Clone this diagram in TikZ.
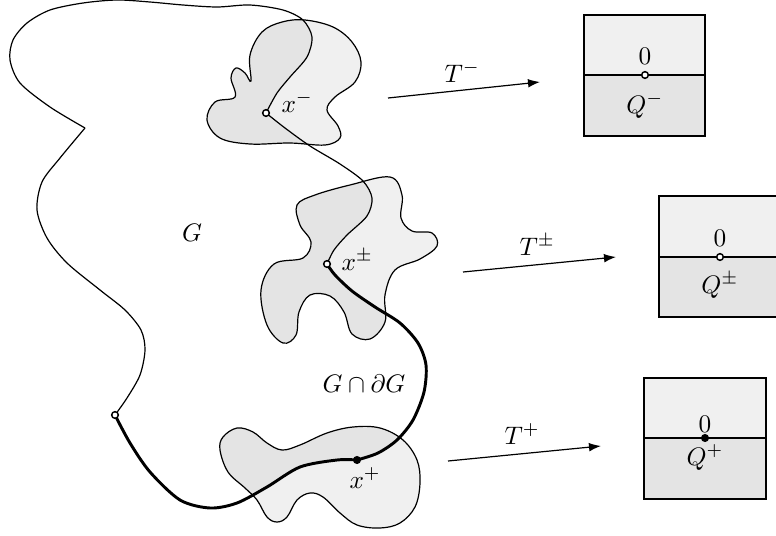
\documentclass[tikz,border=0pt]{standalone}
\usetikzlibrary{arrows.meta}
\definecolor{lightg}{RGB}{240,240,240}
\definecolor{darkg}{RGB}{228,228,228}
\begin{document}
\begin{tikzpicture}[x=0.75pt,y=-0.75pt,
  thinline/.style={line width=0.9pt},
  thickline/.style={line width=2.2pt,line cap=round},
  opendot/.style={circle,draw,fill=white,inner sep=0pt,minimum size=5pt,line width=1.1pt},
  fulldot/.style={circle,draw,fill=black,inner sep=0pt,minimum size=5pt,line width=1pt},
  lbl/.style={scale=1.9,inner sep=0pt},
  maparrow/.style={line width=0.9pt,-{Latex[length=9pt,width=6.5pt]}},
  boxline/.style={line width=1pt}]
\useasboundingbox (0,0) rectangle (776,536);
\clip (0,0) rectangle (776,536);

% blobs, light fill
\fill[lightg] plot[smooth cycle,tension=0.6] coordinates {(305,20) (333,27) (352,42) (361,62) (355,82) (335,97) (327,110) (338,126) (340,138) (325,145) (290,143) (250,144) (220,138) (207,120) (215,102) (235,97) (231,78) (236,68) (245,73) (251,81) (250,55) (262,32) (282,22)};
\fill[lightg] plot[smooth cycle,tension=0.6] coordinates {(390,177) (402,195) (401,218) (412,231) (432,233) (437,246) (420,259) (395,270) (385,295) (385,322) (370,339) (352,334) (344,312) (330,296) (310,295) (299,312) (296,335) (283,343) (267,325) (261,290) (274,264) (303,258) (311,242) (300,225) (297,205) (315,195) (350,185)};
\fill[lightg] plot[smooth cycle,tension=0.6] coordinates {(220,450) (223,437) (237,428) (253,432) (267,443) (282,450) (300,445) (327,433) (353,427) (380,428) (403,440) (417,460) (420,483) (415,507) (400,523) (380,528) (357,525) (340,513) (323,497) (310,493) (297,500) (287,517) (277,522) (267,517) (257,500) (245,488) (228,472)};

% darker part inside G
\begin{scope}
\clip plot[smooth] coordinates {(115,415) (127,398) (140,375) (145,350) (141,330) (125,310) (100,290) (67,263) (47,238) (37,210) (42,182) (60,158) (85,128)}
  -- plot[smooth] coordinates {(85,128) (50,107) (20,83) (10,60) (13,40) (27,23) (50,10) (83,3) (117,0) (150,2) (183,5) (217,7) (250,5) (283,10) (303,20) (312,37) (307,57) (290,77) (277,93) (266,113)}
  -- plot[smooth] coordinates {(266,113) (285,128) (310,146) (340,164) (363,181) (372,198) (367,216) (347,235) (334,250) (327,264)}
  -- plot[smooth] coordinates {(327,264) (335,275) (352,291) (375,307) (400,323) (418,343) (426,365) (424,392) (413,420) (397,440) (378,453) (357,460)}
  -- plot[smooth] coordinates {(357,460) (337,460) (300,467) (267,487) (237,503) (210,508) (180,500) (150,472) (130,443) (115,415)}
  -- cycle;
\fill[darkg] plot[smooth cycle,tension=0.6] coordinates {(305,20) (333,27) (352,42) (361,62) (355,82) (335,97) (327,110) (338,126) (340,138) (325,145) (290,143) (250,144) (220,138) (207,120) (215,102) (235,97) (231,78) (236,68) (245,73) (251,81) (250,55) (262,32) (282,22)};
\fill[darkg] plot[smooth cycle,tension=0.6] coordinates {(390,177) (402,195) (401,218) (412,231) (432,233) (437,246) (420,259) (395,270) (385,295) (385,322) (370,339) (352,334) (344,312) (330,296) (310,295) (299,312) (296,335) (283,343) (267,325) (261,290) (274,264) (303,258) (311,242) (300,225) (297,205) (315,195) (350,185)};
\fill[darkg] plot[smooth cycle,tension=0.6] coordinates {(220,450) (223,437) (237,428) (253,432) (267,443) (282,450) (300,445) (327,433) (353,427) (380,428) (403,440) (417,460) (420,483) (415,507) (400,523) (380,528) (357,525) (340,513) (323,497) (310,493) (297,500) (287,517) (277,522) (267,517) (257,500) (245,488) (228,472)};
\end{scope}

% blob outlines
\draw[thinline] plot[smooth cycle,tension=0.6] coordinates {(305,20) (333,27) (352,42) (361,62) (355,82) (335,97) (327,110) (338,126) (340,138) (325,145) (290,143) (250,144) (220,138) (207,120) (215,102) (235,97) (231,78) (236,68) (245,73) (251,81) (250,55) (262,32) (282,22)};
\draw[thinline] plot[smooth cycle,tension=0.6] coordinates {(390,177) (402,195) (401,218) (412,231) (432,233) (437,246) (420,259) (395,270) (385,295) (385,322) (370,339) (352,334) (344,312) (330,296) (310,295) (299,312) (296,335) (283,343) (267,325) (261,290) (274,264) (303,258) (311,242) (300,225) (297,205) (315,195) (350,185)};
\draw[thinline] plot[smooth cycle,tension=0.6] coordinates {(220,450) (223,437) (237,428) (253,432) (267,443) (282,450) (300,445) (327,433) (353,427) (380,428) (403,440) (417,460) (420,483) (415,507) (400,523) (380,528) (357,525) (340,513) (323,497) (310,493) (297,500) (287,517) (277,522) (267,517) (257,500) (245,488) (228,472)};

% boundary of G
\draw[thinline] plot[smooth] coordinates {(115,415) (127,398) (140,375) (145,350) (141,330) (125,310) (100,290) (67,263) (47,238) (37,210) (42,182) (60,158) (85,128)};
\draw[thinline] plot[smooth] coordinates {(85,128) (50,107) (20,83) (10,60) (13,40) (27,23) (50,10) (83,3) (117,0) (150,2) (183,5) (217,7) (250,5) (283,10) (303,20) (312,37) (307,57) (290,77) (277,93) (266,113)};
\draw[thinline] plot[smooth] coordinates {(266,113) (285,128) (310,146) (340,164) (363,181) (372,198) (367,216) (347,235) (334,250) (327,264)};
\draw[thickline] plot[smooth] coordinates {(327,264) (335,275) (352,291) (375,307) (400,323) (418,343) (426,365) (424,392) (413,420) (397,440) (378,453) (357,460)};
\draw[thickline] plot[smooth] coordinates {(357,460) (337,460) (300,467) (267,487) (237,503) (210,508) (180,500) (150,472) (130,443) (115,415)};

% points
\node[opendot] (pL) at (115,415) {};
\node[opendot] (xm) at (266,113) {};
\node[opendot] (xpm) at (327,264) {};
\node[fulldot] (xp) at (357,460) {};

% labels
\node[lbl,anchor=base] (lG) at (192,241) {$G$};
\node[lbl,anchor=base west] (lxm) at (281,112) {$x^{-}$};
\node[lbl,anchor=base west] (lxpm) at (341,270) {$x^{\pm}$};
\node[lbl,anchor=base west] (lxp) at (349,488) {$x^{+}$};
\node[lbl,anchor=base west] (lGdG) at (322,392) {$G\cap\partial G$};

% arrows
\coordinate (a1s) at (388,98);
\coordinate (a1e) at (540,82);
\coordinate (a2s) at (463,272);
\coordinate (a2e) at (616,257);
\coordinate (a3s) at (448,461);
\coordinate (a3e) at (601,446);
\draw[maparrow] (a1s) -- (a1e);
\draw[maparrow] (a2s) -- (a2e);
\draw[maparrow] (a3s) -- (a3e);
\node[lbl,anchor=base west] (lTm) at (444,82) {$T^{-}$};
\node[lbl,anchor=base west] (lTpm) at (519,255) {$T^{\pm}$};
\node[lbl,anchor=base west] (lTp) at (504,444) {$T^{+}$};

% box Q-
\fill[lightg] (584,15) rectangle (705,75);
\fill[darkg] (584,75) rectangle (705,136);
\draw[boxline] (584,15) rectangle (705,136);
\draw[thinline] (584,75) -- (705,75);
\node[opendot] (q1) at (645,75) {};
\node[lbl,anchor=base] (z1) at (645,64) {$0$};
\node[lbl,anchor=base] (Q1) at (645,113) {$Q^{-}$};

% box Q+-
\fill[lightg] (659,196) rectangle (781,257);
\fill[darkg] (659,257) rectangle (781,317);
\draw[boxline] (659,196) rectangle (781,317);
\draw[thinline] (659,257) -- (720,257);
\draw[thickline,line cap=butt] (720,257) -- (781,257);
\node[opendot] (q2) at (720,257) {};
\node[lbl,anchor=base] (z2) at (720,246) {$0$};
\node[lbl,anchor=base] (Q2) at (720,293) {$Q^{\pm}$};

% box Q+
\fill[lightg] (644,378) rectangle (766,438);
\fill[darkg] (644,438) rectangle (766,499);
\draw[boxline] (644,378) rectangle (766,499);
\draw[thickline,line cap=butt] (644,438) -- (766,438);
\node[fulldot] (q3) at (705,438) {};
\node[lbl,anchor=base] (z3) at (705,432) {$0$};
\node[lbl,anchor=base] (Q3) at (705,465) {$Q^{+}$};
\end{tikzpicture}
\end{document}
